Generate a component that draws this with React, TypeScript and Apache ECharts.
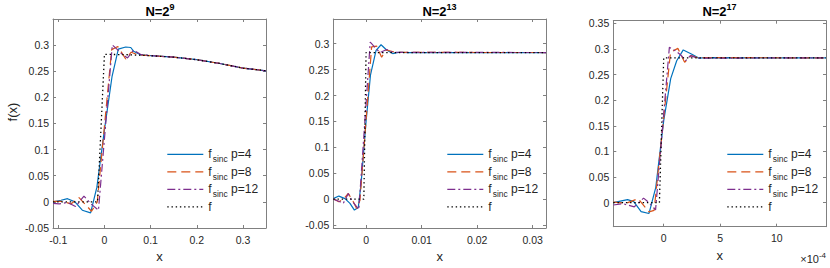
import React, { useEffect, useRef } from "react";
import * as echarts from "echarts";

// ---------- data (x in axis units; panel 3 x in units of 1e-4) ----------
const seriesNames = ["s4", "s8", "s12", "f"];
const legendLabels = ["f{s|sinc}{m| p=4}", "f{s|sinc}{m| p=8}", "f{s|sinc}{m| p=12}", "f"];
const titleTexts = ["N=2{sup|9}", "N=2{sup|13}", "N=2{sup|17}"];

const p1Sinc4 = [[-0.1115,0.000],[-0.094,0.003],[-0.080,0.006],[-0.064,0.000],[-0.048,-0.016],[-0.030,-0.021],[-0.0164,0.028],[0,0.138],[0.0165,0.240],[0.030,0.292],[0.046,0.296],[0.057,0.295],[0.063,0.288],[0.078,0.281],[0.094,0.2798],[0.109,0.279],[0.15,0.2765],[0.2,0.2717],[0.25,0.2645],[0.3,0.2557],[0.35,0.2505]];
const p1Sinc8 = [[-0.1115,0.001],[-0.091,0.001],[-0.0726,-0.004],[-0.055,0.008],[-0.028,-0.018],[-0.0156,0.000],[0,0.145],[0.0156,0.291],[0.029,0.297],[0.046,0.273],[0.058,0.286],[0.072,0.281],[0.09,0.2800],[0.109,0.279],[0.15,0.2765],[0.2,0.2717],[0.25,0.2645],[0.3,0.2557],[0.35,0.2505]];
const p1Sinc12 = [[-0.1115,-0.003],[-0.098,-0.004],[-0.080,-0.001],[-0.0626,-0.009],[-0.0445,0.011],[-0.029,-0.004],[-0.013,-0.016],[0.017,0.300],[0.027,0.292],[0.036,0.284],[0.050,0.275],[0.063,0.290],[0.078,0.282],[0.094,0.2800],[0.109,0.279],[0.15,0.2765],[0.2,0.2717],[0.25,0.2645],[0.3,0.2557],[0.35,0.2505]];
const p1F = [[-0.1115,0],[-0.015,0],[0,0.282],[0.05,0.2812],[0.1,0.2794],[0.15,0.2765],[0.2,0.2717],[0.25,0.2645],[0.3,0.2557],[0.35,0.2505]];

const p2Sinc4 = [[-0.0059,0.001],[-0.0049,0.006],[-0.0038,0.001],[-0.0029,-0.008],[-0.0021,-0.021],[-0.0014,-0.016],[-0.0009,0.03],[0,0.15],[0.0008,0.24],[0.0018,0.287],[0.0027,0.298],[0.0037,0.288],[0.0048,0.281],[0.006,0.2835],[0.0075,0.283],[0.0324,0.283]];
const p2Sinc8 = [[-0.0059,0.001],[-0.0049,-0.005],[-0.0041,0.0],[-0.0032,0.011],[-0.0023,-0.005],[-0.0017,-0.018],[-0.0011,-0.002],[0.001,0.294],[0.0019,0.2955],[0.0028,0.274],[0.0036,0.288],[0.0049,0.2845],[0.006,0.2832],[0.0324,0.283]];
const p2Sinc12 = [[-0.0059,0.000],[-0.0047,-0.005],[-0.0041,-0.008],[-0.0032,0.011],[-0.0026,-0.002],[-0.0013,-0.020],[0.00075,0.303],[0.0016,0.293],[0.0025,0.283],[0.0037,0.289],[0.0048,0.2835],[0.0324,0.283]];
const p2F = [[-0.0059,0],[-0.0004,0],[0,0.283],[0.0324,0.283]];

const p3Sinc4 = [[-4.46,0.0],[-3.2,0.006],[-2.65,0.002],[-2.0,-0.0175],[-1.3,-0.021],[-0.7,0.03],[0.0,0.16],[0.62,0.242],[1.15,0.277],[1.73,0.298],[2.45,0.29],[3.1,0.282],[3.8,0.2828],[14.36,0.2825]];
const p3Sinc8 = [[-4.46,0.001],[-3.3,-0.001],[-2.26,0.008],[-1.3,-0.018],[-0.85,-0.015],[0.6,0.293],[1.25,0.301],[1.85,0.274],[2.45,0.287],[3.05,0.2825],[3.7,0.283],[14.36,0.2825]];
const p3Sinc12 = [[-4.46,-0.0045],[-3.6,-0.002],[-2.6,-0.008],[-1.78,0.009],[-1.3,0.0],[-0.72,-0.014],[0.5,0.303],[1.12,0.295],[1.56,0.287],[1.95,0.277],[2.36,0.287],[3.0,0.282],[14.36,0.2825]];
const p3F = [[-4.46,0],[-0.38,0],[0,0.2825],[14.36,0.2825]];

const p1XRange = [-0.1115, 0.35];
const p2XRange = [-0.0059, 0.0324];
const p3XRange = [-4.46, 14.36];
const p1YRange = [-0.05, 0.3495];
const p2YRange = [-0.0556, 0.3477];
const p3YRange = [-0.0468, 0.355];

const p1XTicks = [-0.1, 0, 0.1, 0.2, 0.3];
const p2XTicks = [0, 0.01, 0.02, 0.03];
const p3XTicks = [0, 5, 10];
const p1YTicks = [-0.05, 0, 0.05, 0.1, 0.15, 0.2, 0.25, 0.3];
const p2YTicks = [-0.05, 0, 0.05, 0.1, 0.15, 0.2, 0.25, 0.3];
const p3YTicks = [0, 0.05, 0.1, 0.15, 0.2, 0.25, 0.3, 0.35];

// ---------- styles ----------
const FONT = "'Liberation Sans', Arial, Helvetica, sans-serif";
const TXT = "#262626";
const AX = "#808080";
const COLORS = ["#0072BD", "#D95319", "#7E2F8E", "#000000"];
const DASHES: any[] = ["solid", [9, 5], [8, 3, 2, 3], [1.4, 2.8]];

const grids = [
  { left: 53, top: 19, width: 213, height: 209 },
  { left: 333.3, top: 19, width: 212.7, height: 209 },
  { left: 613.3, top: 20.7, width: 212.7, height: 206 },
];
const legendLefts = [166.7, 446.7, 726.7];
const titleCenters = [160, 439.5, 719.5];

const fmt = (v: number) => String(+Number(v).toFixed(4));

export default function App() {
  const ref = useRef<HTMLDivElement>(null);
  useEffect(() => {
    if (!ref.current) return;
    const chart = echarts.init(ref.current, undefined, { renderer: "svg" });
    const panels = [
      { data: [p1Sinc4, p1Sinc8, p1Sinc12, p1F], xr: p1XRange, yr: p1YRange, xt: p1XTicks, yt: p1YTicks },
      { data: [p2Sinc4, p2Sinc8, p2Sinc12, p2F], xr: p2XRange, yr: p2YRange, xt: p2XTicks, yt: p2YTicks },
      { data: [p3Sinc4, p3Sinc8, p3Sinc12, p3F], xr: p3XRange, yr: p3YRange, xt: p3XTicks, yt: p3YTicks },
    ];
    const lineAx = { show: true, onZero: false, lineStyle: { color: AX, width: 1 } };
    const xAxis: any[] = [];
    const yAxis: any[] = [];
    panels.forEach((p, i) => {
      xAxis.push({
        type: "value", gridIndex: i, position: "bottom", min: p.xr[0], max: p.xr[1],
        axisLine: lineAx,
        axisTick: { show: true, inside: true, length: 3, customValues: p.xt, lineStyle: { color: AX } },
        axisLabel: { show: true, customValues: p.xt, formatter: fmt, margin: 6, color: TXT, fontSize: 10.5, fontFamily: FONT },
        splitLine: { show: false },
        name: "x", nameLocation: "middle", nameGap: 22,
        nameTextStyle: { color: TXT, fontSize: 13, fontFamily: FONT },
      });
      yAxis.push({
        type: "value", gridIndex: i, position: "left", min: p.yr[0], max: p.yr[1],
        axisLine: lineAx,
        axisTick: { show: true, inside: true, length: 3, customValues: p.yt, lineStyle: { color: AX } },
        axisLabel: { show: true, customValues: p.yt, formatter: fmt, margin: 4, color: TXT, fontSize: 10.5, fontFamily: FONT },
        splitLine: { show: false },
      });
    });
    panels.forEach((p, i) => {
      xAxis.push({
        type: "value", gridIndex: i, position: "top", min: p.xr[0], max: p.xr[1],
        axisLine: lineAx,
        axisTick: { show: true, inside: true, length: 3, customValues: p.xt, lineStyle: { color: AX } },
        axisLabel: { show: false }, splitLine: { show: false },
      });
      yAxis.push({
        type: "value", gridIndex: i, position: "right", min: p.yr[0], max: p.yr[1],
        axisLine: lineAx,
        axisTick: { show: true, inside: true, length: 3, customValues: p.yt, lineStyle: { color: AX } },
        axisLabel: { show: false }, splitLine: { show: false },
      });
    });
    const series: any[] = [];
    panels.forEach((p, i) => {
      p.data.forEach((d, k) => {
        series.push({
          type: "line", name: seriesNames[k], xAxisIndex: i, yAxisIndex: i, data: d,
          symbol: "none", showSymbol: false, clip: true, z: 2 + k,
          lineStyle: { color: COLORS[k], width: k === 3 ? 1.3 : 1.2, type: DASHES[k] },
          itemStyle: { color: COLORS[k] },
        });
      });
    });
    const legend = legendLefts.map((l) => ({
      left: l, top: 145.3, orient: "vertical", padding: 0, itemGap: -1,
      itemWidth: 36, itemHeight: 10, selectedMode: false, data: seriesNames,
      itemStyle: { opacity: 0, borderWidth: 0 },
      lineStyle: { width: 1.2 },
      formatter: (name: string) => legendLabels[seriesNames.indexOf(name)],
      textStyle: {
        color: TXT, fontSize: 12, fontFamily: FONT, lineHeight: 18,
        rich: {
          m: { color: TXT, fontSize: 12, fontFamily: FONT, lineHeight: 18 },
          s: { color: TXT, fontSize: 8.5, fontFamily: FONT, verticalAlign: "top", padding: [9.5, 0, 0, 1] },
        },
      },
    }));
    const graphic: any[] = titleCenters.map((cx, i) => ({
      type: "text", x: cx, y: 11,
      style: {
        text: titleTexts[i], align: "center", verticalAlign: "middle",
        fill: "#000", fontSize: 13, fontWeight: "bold", fontFamily: FONT, lineHeight: 18,
        rich: { sup: { fill: "#000", fontSize: 9, fontWeight: "bold", fontFamily: FONT, verticalAlign: "top" } },
      },
    }));
    graphic.push({
      type: "text", x: 12, y: 112, rotation: Math.PI / 2,
      style: { text: "f(x)", align: "center", verticalAlign: "middle", fill: TXT, fontSize: 13, fontFamily: FONT },
    });
    graphic.push({
      type: "text", x: 826, y: 259,
      style: {
        text: "×10{sup|-4}", align: "right", verticalAlign: "middle", fill: TXT, fontSize: 11, fontFamily: FONT, lineHeight: 16,
        rich: { sup: { fill: TXT, fontSize: 8, fontFamily: FONT, verticalAlign: "top" } },
      },
    });
    chart.setOption({
      animation: false,
      backgroundColor: "#ffffff",
      grid: grids.map((g) => ({ ...g, containLabel: false })),
      xAxis, yAxis, series, legend, graphic,
    });
    return () => chart.dispose();
  }, []);
  return <div ref={ref} style={{ position: "absolute", left: 0, top: 0, width: 830, height: 268 }} />;
}
